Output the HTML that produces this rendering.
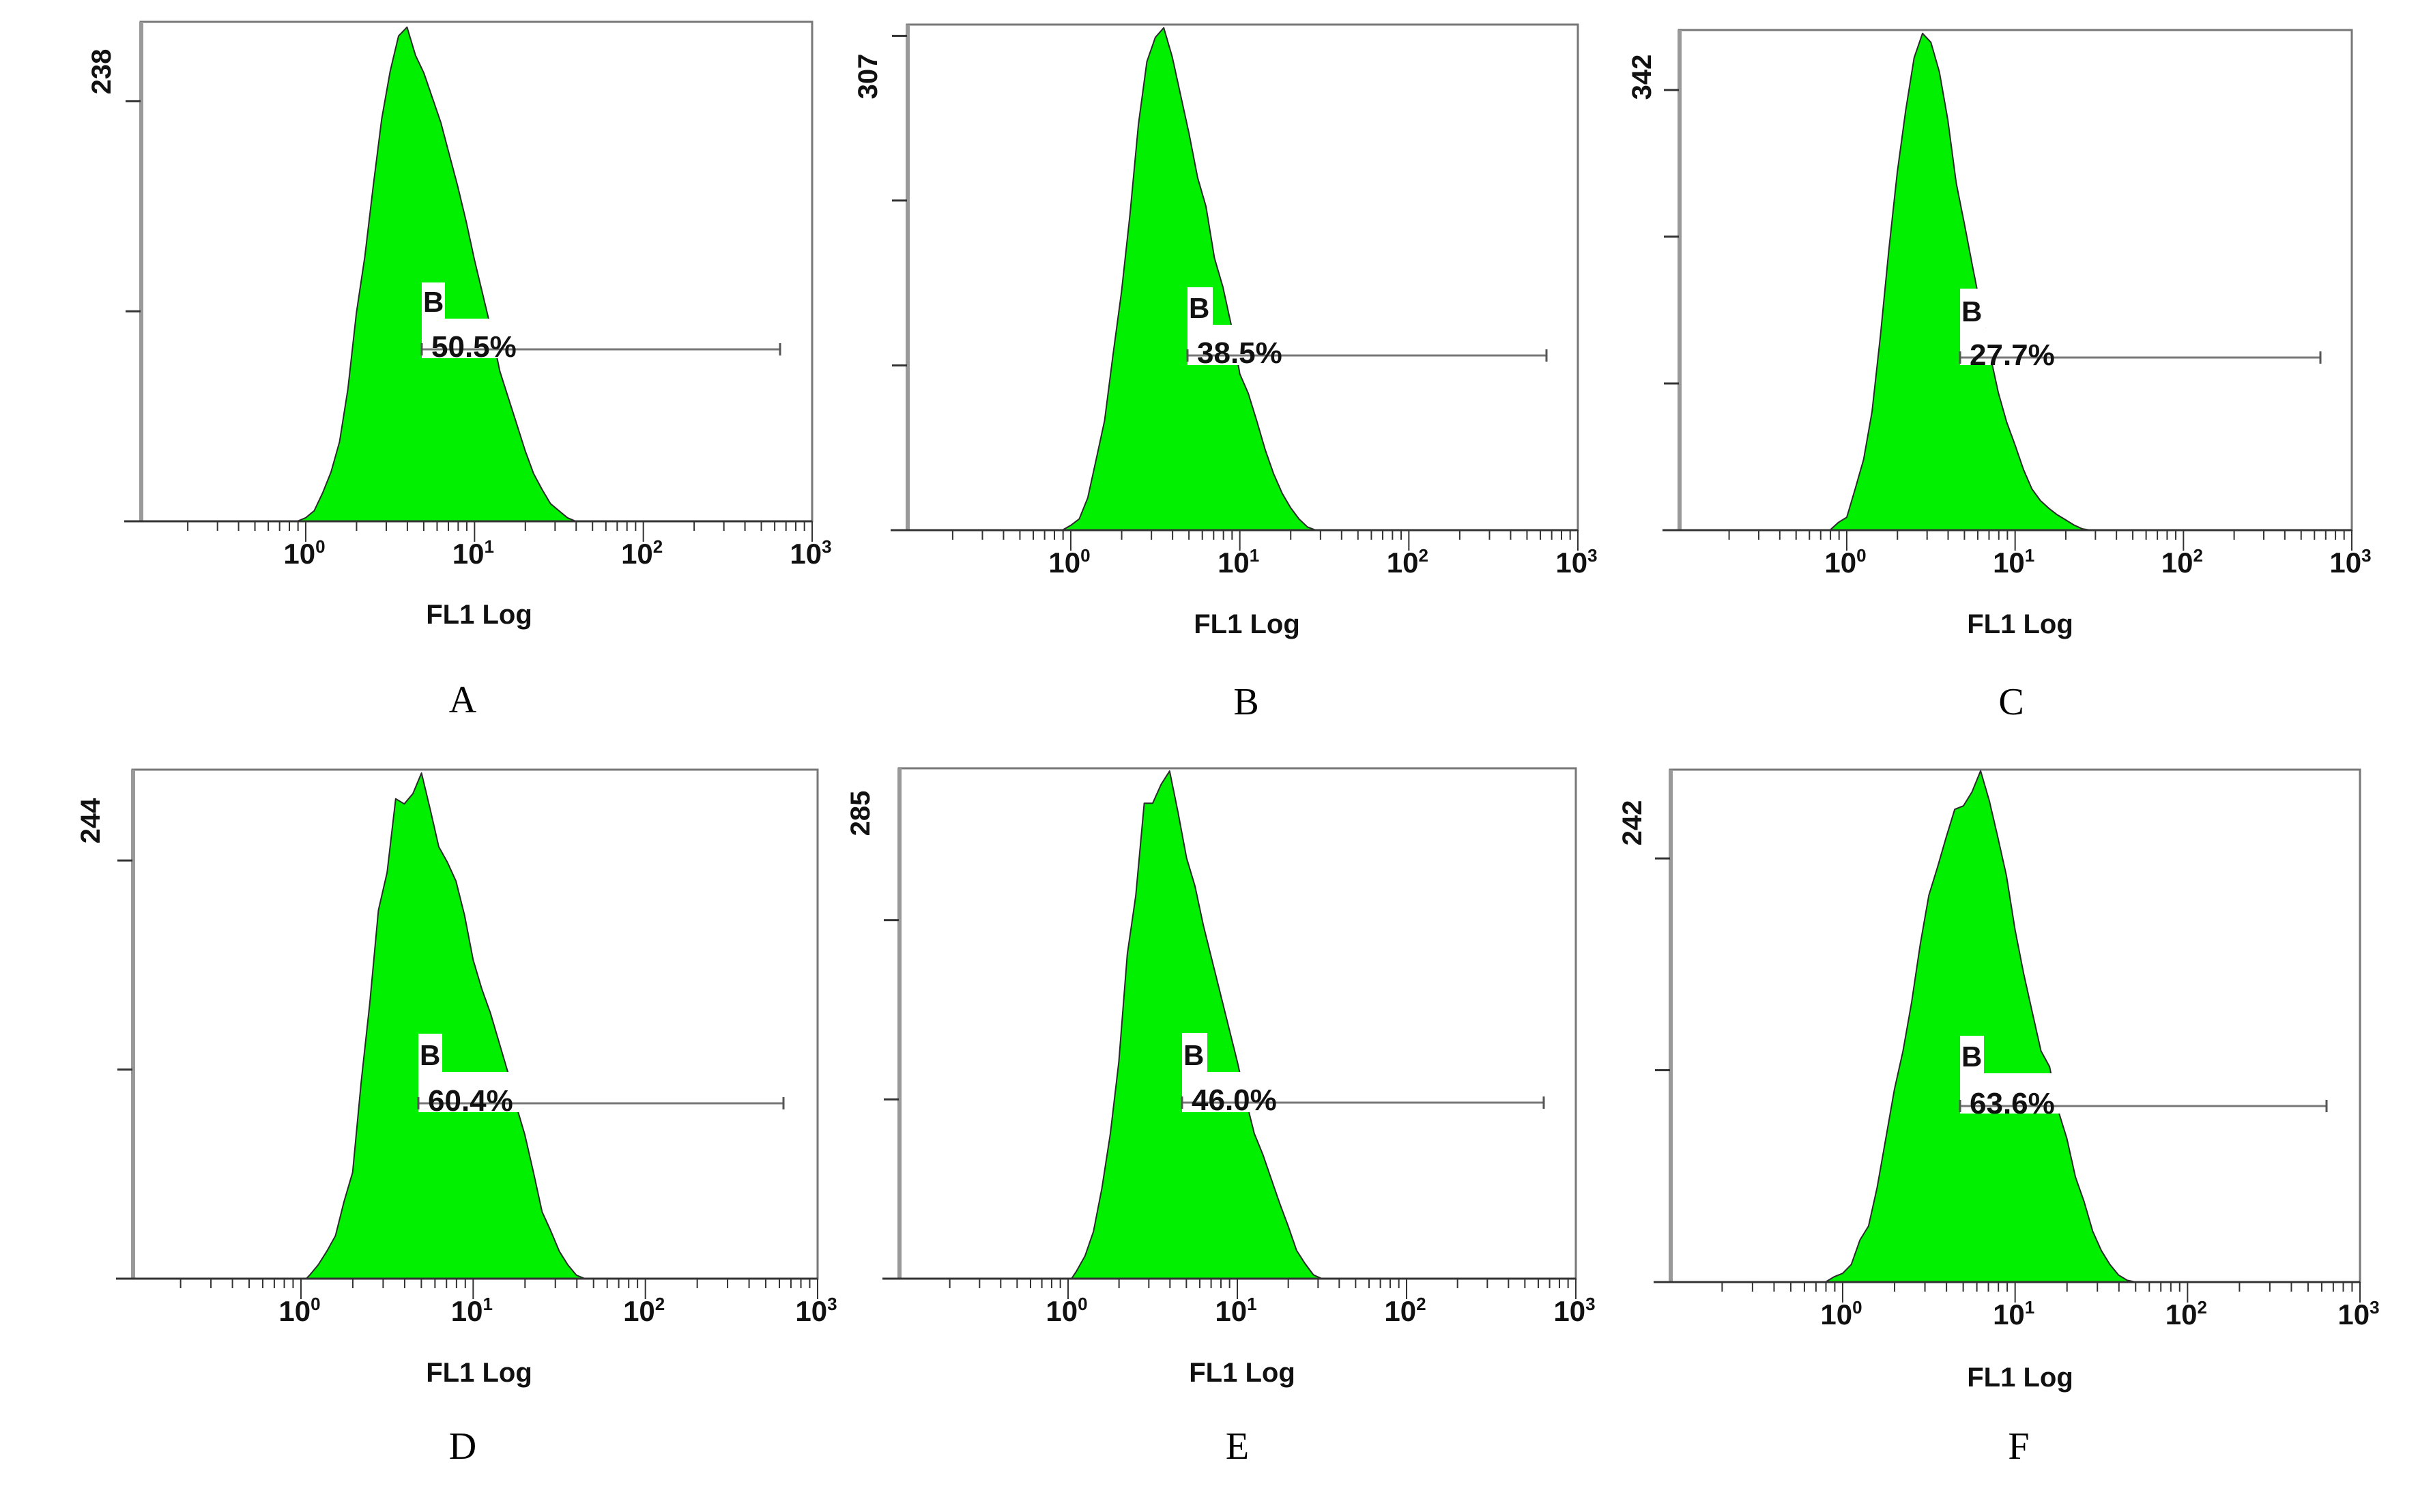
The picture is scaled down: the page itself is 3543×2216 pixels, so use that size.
<!DOCTYPE html>
<html><head><meta charset="utf-8">
<style>
html,body{margin:0;padding:0;background:#fff;}
svg{display:block;}
text{font-family:"Liberation Sans",Arial,sans-serif;}
text.serif{font-family:"Liberation Serif","Times New Roman",serif;}
</style></head>
<body>
<svg id="fig" width="3543" height="2216" viewBox="0 0 3543 2216" xmlns="http://www.w3.org/2000/svg">
<rect x="0" y="0" width="3543" height="2216" fill="#fff"/>
</svg>
<script>
// ---- data ----
const panelLetters = ["A","B","C","D","E","F"];
const gatePercents = ["50.5%","38.5%","27.7%","60.4%","46.0%","63.6%"];
const yTopLabels = ["238","307","342","244","285","242"];
const yMaxA = 283, yMaxB = 314, yMaxC = 388.6, yMaxD = 297, yMaxE = 270.5, yMaxF = 292.7;
const yTicksA = [238,119];
const yTicksB = [307,204.7,102.3];
const yTicksC = [342,228,114];
const yTicksD = [244,122];
const yTicksE = [190,95];
const yTicksF = [242,121];
const xDecadeLabels = ["0","1","2","3"];
const logA = [-0.05,0,0.05,0.1,0.15,0.2,0.25,0.3,0.35,0.4,0.45,0.5,0.55,0.6,0.65,0.7,0.75,0.8,0.85,0.9,0.95,1.0,1.05,1.1,1.15,1.2,1.25,1.3,1.35,1.4,1.45,1.5,1.55,1.6];
const cntA = [0,2,6,16,28,45,75,118,150,190,228,255,275,280,264,254,240,226,208,190,170,148,128,108,85,70,55,40,27,18,10,6,2,0];
const logB = [-0.05,0,0.05,0.1,0.15,0.2,0.25,0.3,0.35,0.4,0.45,0.5,0.55,0.6,0.65,0.7,0.75,0.8,0.85,0.9,0.95,1.0,1.05,1.1,1.15,1.2,1.25,1.3,1.35,1.4,1.45];
const cntB = [0,3,7,20,44,68,109,148,196,252,291,306,312,294,270,246,219,201,169,151,127,97,85,68,50,35,23,14,7,2,0];
const logC = [-0.1,-0.05,0,0.05,0.1,0.15,0.2,0.25,0.3,0.35,0.4,0.45,0.5,0.55,0.6,0.65,0.7,0.75,0.8,0.85,0.9,0.95,1.0,1.05,1.1,1.15,1.2,1.25,1.3,1.35,1.4,1.45];
const cntC = [0,6,10,32,55,92,151,218,278,326,367,386,379,356,319,270,237,203,170,137,107,84,66,47,32,23,17,12,8,4,1,0];
const logD = [0.03,0.05,0.1,0.15,0.2,0.25,0.3,0.35,0.4,0.45,0.5,0.55,0.6,0.65,0.7,0.75,0.8,0.85,0.9,0.95,1.0,1.05,1.1,1.15,1.2,1.25,1.3,1.35,1.4,1.45,1.5,1.55,1.6,1.65];
const cntD = [0,2,8,16,25,45,62,115,161,215,237,280,277,283,295,274,252,243,232,212,186,169,155,138,121,101,84,62,39,28,16,8,2,0];
const logE = [0.02,0.05,0.1,0.15,0.2,0.25,0.3,0.35,0.4,0.45,0.5,0.55,0.6,0.65,0.7,0.75,0.8,0.85,0.9,0.95,1.0,1.05,1.1,1.15,1.2,1.25,1.3,1.35,1.4,1.45,1.5];
const cntE = [0,4,12,25,48,77,115,172,203,252,252,262,269,247,223,208,187,169,151,133,115,95,77,66,53,40,28,15,8,2,0];
const logF = [-0.1,-0.05,0,0.05,0.1,0.15,0.2,0.25,0.3,0.35,0.4,0.45,0.5,0.55,0.6,0.65,0.7,0.75,0.8,0.85,0.9,0.95,1.0,1.05,1.1,1.15,1.2,1.25,1.3,1.35,1.4,1.45,1.5,1.55,1.6,1.65,1.7];
const cntF = [0,3,5,10,24,32,54,82,110,132,160,193,221,237,254,270,272,280,292,275,254,232,201,176,154,132,123,98,82,60,46,29,18,10,4,1,0];

// ---- layout (pixels) ----
const layouts = [
 {L:206,R:1190,T:32,B:764,x0:448,lab:[148,105],g:[618,414,652,467,758,525,512,1143],xl:[702,900],pl:[678,1025]},
 {L:1329,R:2312,T:36,B:777,x0:1569,lab:[1271,112],g:[1740,421,1777,476,1881,535,521,2266],xl:[1827,914],pl:[1826,1028]},
 {L:2460,R:3446,T:44,B:777,x0:2706,lab:[2405,113],g:[2872,423,2909,481,3016,535,524,3400],xl:[2960,914],pl:[2947,1028]},
 {L:194,R:1198,T:1128,B:1874,x0:441,lab:[132,1203],g:[613,1515,648,1571,762,1630,1617,1148],xl:[702,2011],pl:[678,2119]},
 {L:1317,R:2309,T:1126,B:1874,x0:1565,lab:[1260,1192],g:[1732,1514,1769,1571,1876,1630,1616,2262],xl:[1820,2011],pl:[1813,2119]},
 {L:2447,R:3458,T:1128,B:1879,x0:2700,lab:[2391,1206],g:[2872,1518,2907,1573,3018,1632,1621,3409],xl:[2960,2018],pl:[2958,2119]}
];
const yMaxes = [yMaxA,yMaxB,yMaxC,yMaxD,yMaxE,yMaxF];
const yTickSets = [yTicksA,yTicksB,yTicksC,yTicksD,yTicksE,yTicksF];
const logSets = [logA,logB,logC,logD,logE,logF];
const cntSets = [cntA,cntB,cntC,cntD,cntE,cntF];

const NS = "http://www.w3.org/2000/svg";
const svg = document.getElementById("fig");
function mk(tag, attrs, parent){
  const el = document.createElementNS(NS, tag);
  for (const k in attrs) el.setAttribute(k, attrs[k]);
  (parent||svg).appendChild(el);
  return el;
}

layouts.forEach((ly, i) => {
  const g = mk("g", {});
  
  
  const dec = (ly.R - ly.x0) / 3;
  const xs = (l) => ly.x0 + dec * l;
  const ys = (v) => ly.B - (v / yMaxes[i]) * (ly.B - ly.T);

  const fr = mk("rect", {x:ly.L, y:ly.T, width:ly.R-ly.L, height:ly.B-ly.T, fill:"#fff", stroke:"#777", "stroke-width":3}, g);
  
  
  mk("line", {x1:ly.L+1, y1:ly.T, x2:ly.L+1, y2:ly.B, stroke:"#999", "stroke-width":6}, g);

  const ls = logSets[i], cs = cntSets[i];
  let d = "M" + xs(ls[0]).toFixed(1) + "," + ly.B;
  for (let k = 0; k < ls.length; k++) d += " L" + xs(ls[k]).toFixed(1) + "," + ys(cs[k]).toFixed(1);
  d += " L" + xs(ls[ls.length-1]).toFixed(1) + "," + ly.B + " Z";
  const hist = mk("path", {d:d, fill:"#00f000", stroke:"#2a2a2a", "stroke-width":2, "stroke-linejoin":"round"}, g);
  
  

  const ax = mk("line", {x1:ly.L-24, y1:ly.B, x2:ly.R, y2:ly.B, stroke:"#333", "stroke-width":3}, g);
  
  

  for (let dd = -1; dd < 3; dd++) {
    for (let m = 2; m <= 9; m++) {
      const x = xs(dd + Math.log10(m));
      mk("line", {x1:x, y1:ly.B, x2:x, y2:ly.B+14, stroke:"#333", "stroke-width":2}, g);
    }
  }
  xDecadeLabels.forEach((lab, j) => {
    const x = xs(j);
    mk("line", {x1:x, y1:ly.B, x2:x, y2:ly.B+30, stroke:"#333", "stroke-width":2}, g);
    const t = mk("text", {x:x-2, y:ly.B+62, "font-size":42, "font-weight":"bold", "text-anchor":"middle", fill:"#111"}, g);
    
    
    t.textContent = "10";
    const s = mk("tspan", {"font-size":26, dy:-16}, t);
    s.textContent = lab;
  });

  yTickSets[i].forEach(v => {
    const y = ys(v);
    const tk = mk("line", {x1:ly.L-22, y1:y, x2:ly.L, y2:y, stroke:"#333", "stroke-width":3}, g);
    
    
  });
  const yl = mk("text", {x:0, y:0, "font-size":40, "font-weight":"bold", "text-anchor":"middle", fill:"#111",
    transform:"translate(" + (ly.lab[0]+14) + "," + ly.lab[1] + ") rotate(-90)"}, g);
  
  
  yl.textContent = yTopLabels[i];

  const gg = ly.g;
  const gate = mk("g", {}, g);
  
  
  mk("rect", {x:gg[0], y:gg[1], width:gg[2]-gg[0], height:gg[3]-gg[1]+1, fill:"#fff"}, gate);
  mk("rect", {x:gg[0], y:gg[3], width:gg[4]-gg[0], height:gg[5]-gg[3], fill:"#fff"}, gate);
  mk("line", {x1:gg[0], y1:gg[6], x2:gg[7], y2:gg[6], stroke:"#777", "stroke-width":3}, gate);
  mk("line", {x1:gg[0], y1:gg[6]-9, x2:gg[0], y2:gg[6]+9, stroke:"#555", "stroke-width":3}, gate);
  mk("line", {x1:gg[7], y1:gg[6]-9, x2:gg[7], y2:gg[6]+9, stroke:"#555", "stroke-width":3}, gate);
  const bt = mk("text", {x:gg[0]+2, y:gg[3]-10, "font-size":42, "font-weight":"bold", fill:"#111"}, gate);
  
  
  bt.textContent = "B";
  const pt = mk("text", {x:gg[0]+14, y:gg[6]+11, "font-size":44, "font-weight":"bold", fill:"#111"}, gate);
  
  
  pt.textContent = gatePercents[i];

  const xt = mk("text", {x:ly.xl[0], y:ly.xl[1]+14, "font-size":40, "font-weight":"bold", "text-anchor":"middle", fill:"#111"}, g);
  
  
  xt.textContent = "FL1 Log";

  const pl = mk("text", {x:ly.pl[0], y:ly.pl[1]+19, "font-size":56, "text-anchor":"middle", fill:"#000", "class":"serif"}, g);
  
  
  pl.style.fontFamily = '"Liberation Serif","Times New Roman",serif';
  pl.textContent = panelLetters[i];
});
</script>
</body></html>
